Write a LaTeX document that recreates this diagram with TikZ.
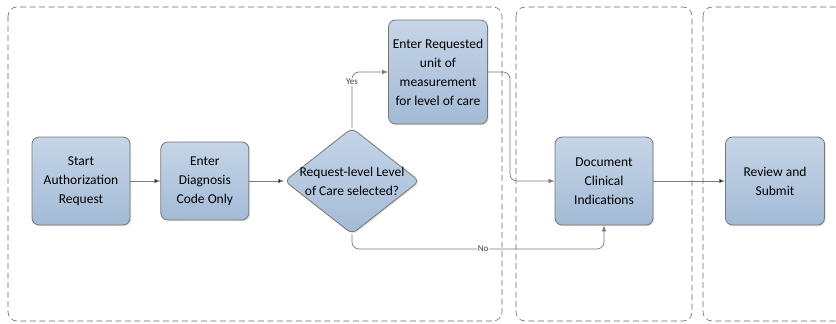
\documentclass[tikz,border=0pt]{standalone}
\usepackage{fontspec}
\setmainfont{Carlito}
\usetikzlibrary{positioning,shapes.geometric,arrows.meta,shadows}

\definecolor{boxtop}{HTML}{C6D5E7}
\definecolor{boxbot}{HTML}{A3BBD6}
\definecolor{boxline}{HTML}{767676}
\definecolor{flowline}{HTML}{857870}
\definecolor{laneline}{HTML}{6A6A6A}

\tikzset{
  task/.style={draw=boxline,rectangle,rounded corners=7pt,top color=boxtop,bottom color=boxbot,
    align=center,inner sep=2pt,line width=0.8pt,
    drop shadow={opacity=0.25,shadow xshift=1.2pt,shadow yshift=-1.2pt},
    font=\fontsize{13.5}{19}\selectfont},
  choice/.style={draw=boxline,diamond,rounded corners=6pt,top color=boxtop,bottom color=boxbot,
    inner sep=0pt,line width=0.8pt,
    drop shadow={opacity=0.25,shadow xshift=1.2pt,shadow yshift=-1.2pt}},
  flow/.style={draw=flowline,line width=0.7pt,rounded corners=7pt,-{Latex[length=6pt,width=4.5pt]}},
  tag/.style={fill=white,inner sep=1pt,font=\fontsize{9}{10}\selectfont,text=black!75},
  lane/.style={draw=laneline,dash pattern=on 6pt off 3.5pt,line width=0.6pt,rounded corners=9pt}
}

\begin{document}
\begin{tikzpicture}[x=1pt,y=-1pt]

\clip (0,0) rectangle (836,324);

% lanes
\draw[lane] (8,7) rectangle (502,321);
\draw[lane] (516,7) rectangle (692,321);
\draw[lane] (703,7) rectangle (860,321);

\node[task,minimum width=98pt,minimum height=88pt] (start) at (81,181) {Start\\Authorization\\Request};
\node[task,minimum width=88pt,minimum height=78pt] (diag) [right=30pt of start] {Enter\\Diagnosis\\Code Only};
\node[choice,minimum width=135pt,minimum height=106pt,
  label={[align=center,font=\fontsize{13.5}{19}\selectfont]center:Request-level Level\\of Care selected?}] (loc) at (352,181) {};
\node[task,minimum width=99pt,minimum height=104pt] (unit) at (438,72) {Enter Requested\\unit of\\measurement\\for level of care};
\node[task,minimum width=98pt,minimum height=88pt] (clin) at (604,181) {Document\\Clinical\\Indications};
\node[task,minimum width=99pt,minimum height=88pt] (review) at (775,181) {Review and\\Submit};

\path[flow]
(start) edge (diag)
(diag) edge (loc)
(clin) edge (review);

\draw[flow] (loc.north) |- node[tag,pos=0.41] {Yes} (unit.west);
\draw[flow] (unit.east) -| (510,181) -- (clin.west);
\draw[flow] (loc.south) |- node[tag,pos=0.76] {No} (604,249) -- (clin.south);

\end{tikzpicture}
\end{document}
